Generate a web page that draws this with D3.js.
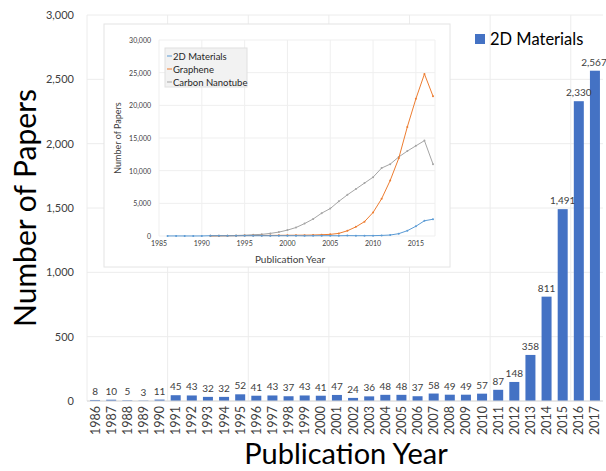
<!DOCTYPE html>
<html>
<head>
<meta charset="utf-8">
<script src="https://cdn.jsdelivr.net/npm/d3@7"></script>
<style>
  body { margin: 0; background: #fff; }
  svg { font-family: Lato, "Open Sans", sans-serif; }
</style>
</head>
<body>
<div id="chart"></div>
<script>
// data
const years = d3.range(1986, 2018);
const papers2D = [8, 10, 5, 3, 11, 45, 43, 32, 32, 52, 41, 43, 37, 43, 41, 47,
  24, 36, 48, 48, 37, 58, 49, 49, 57, 87, 148, 358, 811, 1491, 2330, 2567];
const lineYears = d3.range(1991, 2018);
const graphene = [20, 30, 40, 50, 60, 70, 80, 90, 100, 110, 120, 130, 150, 200,
  250, 400, 800, 1400, 2200, 3600, 5700, 8500, 11900, 16700, 21000, 24800, 21400];
const nanotube = [20, 30, 50, 80, 120, 200, 250, 400, 600, 900, 1300, 1900, 2600,
  3500, 4200, 5300, 6300, 7200, 8100, 9000, 10400, 11000, 12100, 13000, 13800, 14600, 11000];
const mainTicks = [0, 500, 1000, 1500, 2000, 2500, 3000];
const insetTicks = [0, 5000, 10000, 15000, 20000, 25000, 30000];
const insetYearTicks = [1985, 1990, 1995, 2000, 2005, 2010, 2015];

const width = 606, height = 471;
const svg = d3.select("#chart").append("svg")
    .attr("width", width)
    .attr("height", height);

const fmt = d3.format(",");

// main chart
const x = d3.scaleBand().domain(years).range([87, 603]).paddingInner(0.38).paddingOuter(0.19);
const y = d3.scaleLinear().domain([0, 3000]).range([401, 15]);
const step = x.step();
const bandLeft = d => x(d) - step * x.paddingInner() / 2;

// horizontal gridlines
svg.append("g").selectAll("line")
    .data(mainTicks)
    .enter().append("line")
    .attr("x1", 87).attr("x2", 603)
    .attr("y1", d => y(d)).attr("y2", d => y(d))
    .attr("stroke", "#ececec");

// vertical gridlines every five years
svg.append("g").selectAll("line")
    .data(years.filter((d, i) => i % 5 === 0))
    .enter().append("line")
    .attr("x1", bandLeft).attr("x2", bandLeft)
    .attr("y1", 15).attr("y2", 401)
    .attr("stroke", "#ececec");

// y tick labels
svg.append("g").selectAll("text")
    .data(mainTicks)
    .enter().append("text")
    .attr("x", 74).attr("y", d => y(d) + 4)
    .attr("text-anchor", "end")
    .attr("font-size", 11)
    .attr("fill", "#404040")
    .text(fmt);

// bars
svg.append("g").selectAll("rect")
    .data(papers2D)
    .enter().append("rect")
    .attr("x", (d, i) => x(years[i]))
    .attr("width", x.bandwidth())
    .attr("y", d => y(d))
    .attr("height", d => y(0) - y(d))
    .attr("fill", "#4472C4");

// bar value labels (kept inside the page on the right)
svg.append("g").selectAll("text")
    .data(papers2D)
    .enter().append("text")
    .attr("x", (d, i) => Math.min(x(years[i]) + x.bandwidth() / 2, width - 12))
    .attr("y", d => y(d) - 5)
    .attr("text-anchor", "middle")
    .attr("font-size", 10)
    .attr("fill", "#404040")
    .text(fmt);

// baseline
svg.append("line")
    .attr("x1", 87).attr("x2", 603)
    .attr("y1", y(0)).attr("y2", y(0))
    .attr("stroke", "#d9d9d9");

// x tick labels
svg.append("g").selectAll("text")
    .data(years)
    .enter().append("text")
    .attr("transform", d => `translate(${x(d) + x.bandwidth() / 2 + 4.5},406) rotate(-90)`)
    .attr("text-anchor", "end")
    .attr("font-size", 12.5)
    .attr("fill", "#404040")
    .text(d => d);

// axis titles
svg.append("text")
    .attr("x", 346).attr("y", 464)
    .attr("text-anchor", "middle")
    .attr("font-size", 29)
    .attr("fill", "#000")
    .text("Publication Year");

svg.append("text")
    .attr("transform", "translate(36,208) rotate(-90)")
    .attr("text-anchor", "middle")
    .attr("font-size", 30)
    .attr("fill", "#000")
    .text("Number of Papers");

// legend
svg.append("rect")
    .attr("x", 475).attr("y", 34).attr("width", 10).attr("height", 10)
    .attr("fill", "#4472C4");
svg.append("text")
    .attr("x", 490).attr("y", 45)
    .attr("font-size", 16.5)
    .attr("fill", "#000")
    .text("2D Materials");

// inset chart
const inset = svg.append("g");
inset.append("rect")
    .attr("x", 104).attr("y", 24).attr("width", 346).attr("height", 243)
    .attr("fill", "#fff")
    .attr("stroke", "#e4e4e4");

const ix = d3.scaleLinear().domain([1985, 2017]).range([159, 433]);
const iy = d3.scaleLinear().domain([0, 30000]).range([236, 40]);

inset.append("g").selectAll("line")
    .data(insetTicks)
    .enter().append("line")
    .attr("x1", 159).attr("x2", 435)
    .attr("y1", d => iy(d)).attr("y2", d => iy(d))
    .attr("stroke", "#efefef");

inset.append("g").selectAll("line")
    .data(insetYearTicks)
    .enter().append("line")
    .attr("x1", d => ix(d)).attr("x2", d => ix(d))
    .attr("y1", 40).attr("y2", 236)
    .attr("stroke", "#efefef");
inset.append("line")
    .attr("x1", 435).attr("x2", 435).attr("y1", 40).attr("y2", 236)
    .attr("stroke", "#efefef");

inset.append("g").selectAll("text")
    .data(insetTicks)
    .enter().append("text")
    .attr("x", 151).attr("y", d => iy(d) + 3)
    .attr("text-anchor", "end")
    .attr("font-size", 7)
    .attr("fill", "#404040")
    .text(fmt);

inset.append("g").selectAll("text")
    .data(insetYearTicks)
    .enter().append("text")
    .attr("x", d => ix(d)).attr("y", 246)
    .attr("text-anchor", "middle")
    .attr("font-size", 7)
    .attr("fill", "#404040")
    .text(d => d);

inset.append("text")
    .attr("x", 290).attr("y", 263)
    .attr("text-anchor", "middle")
    .attr("font-size", 10)
    .attr("fill", "#404040")
    .text("Publication Year");

inset.append("text")
    .attr("transform", "translate(121,138) rotate(-90)")
    .attr("text-anchor", "middle")
    .attr("font-size", 9)
    .attr("fill", "#404040")
    .text("Number of Papers");

const series = [
  { name: "Carbon Nanotube", color: "#A5A5A5", xs: lineYears, ys: nanotube },
  { name: "Graphene", color: "#ED7D31", xs: lineYears, ys: graphene },
  { name: "2D Materials", color: "#5B9BD5", xs: years, ys: papers2D }
];

const line = d3.line().x(d => ix(d[0])).y(d => iy(d[1]));
series.forEach(s => {
  const pts = s.xs.map((yr, i) => [yr, s.ys[i]]);
  inset.append("path")
      .datum(pts)
      .attr("d", line)
      .attr("fill", "none")
      .attr("stroke", s.color)
      .attr("stroke-width", 1);
  inset.append("g").selectAll("circle")
      .data(pts)
      .enter().append("circle")
      .attr("cx", d => ix(d[0]))
      .attr("cy", d => iy(d[1]))
      .attr("r", 1)
      .attr("fill", s.color);
});

// inset legend
const legendItems = ["2D Materials", "Graphene", "Carbon Nanotube"];
const legendColors = ["#5B9BD5", "#ED7D31", "#A5A5A5"];
inset.append("rect")
    .attr("x", 165).attr("y", 48).attr("width", 82).attr("height", 39)
    .attr("fill", "#f2f2f2")
    .attr("stroke", "#e0e0e0");
const lg = inset.append("g").selectAll("g")
    .data(legendItems)
    .enter().append("g")
    .attr("transform", (d, i) => `translate(167,${56 + i * 13})`);
lg.append("line")
    .attr("x1", 0).attr("x2", 5)
    .attr("stroke", (d, i) => legendColors[i]);
lg.append("text")
    .attr("x", 6).attr("y", 3.5)
    .attr("font-size", 9.5)
    .attr("fill", "#262626")
    .text(d => d);
</script>
</body>
</html>
